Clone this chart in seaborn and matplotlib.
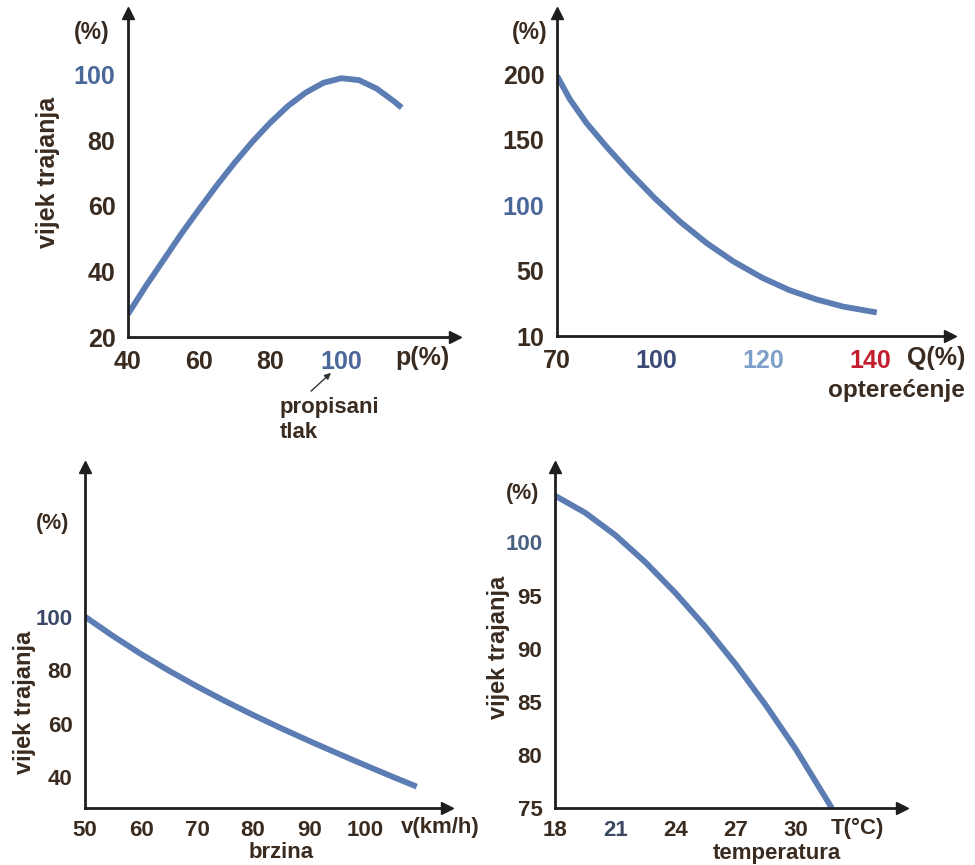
import numpy as np
import matplotlib
matplotlib.use('Agg')
import matplotlib.pyplot as plt
import seaborn as sns

# ---------------- data ----------------
# Panel 1: tyre life vs. inflation pressure
pressure_pct = [40, 45, 50, 55, 60, 65, 70, 75, 80, 85, 90, 95, 100, 105, 110, 115, 117]
life_pressure = [27, 35.5, 43.5, 51.5, 59, 66.3, 73.2, 79.6, 85.4, 90.5, 94.6, 97.6, 99,
                 98.4, 95.8, 91.8, 90]
p_xticks = [40, 60, 80, 100]
p_yticks = [20, 40, 60, 80, 100]

# Panel 2: tyre life vs. load
load_pct = [70, 73.9, 78.9, 85.1, 92.1, 99.8, 104.5, 109.5, 114.5, 119.9, 125, 130, 135, 141.3]
life_load = [199, 181, 163, 144.5, 125, 105, 87.5, 71, 57, 45.6, 38, 32.4, 28, 24.4]
q_xticks = [70, 100, 120, 140]
q_yticks = [10, 50, 100, 150, 200]

# Panel 3: tyre life vs. speed
speed_kmh = [50, 55, 60, 65, 70, 75, 80, 85, 90, 95, 100, 105, 109.2]
life_speed = [100, 92.75, 86.0, 79.75, 73.9, 68.4, 63.2, 58.25, 53.5, 48.9, 44.4, 40.0, 36.4]
v_xticks = [50, 60, 70, 80, 90, 100]
v_yticks = [40, 60, 80, 100]

# Panel 4: tyre life vs. temperature
temp_c = [18, 19.5, 21, 22.5, 24, 25.5, 27, 28.5, 30, 31.8]
life_temp = [104.4, 102.8, 100.7, 98.15, 95.25, 92.05, 88.55, 84.7, 80.55, 75]
t_xticks = [18, 21, 24, 27, 30]
t_yticks = [75, 80, 85, 90, 95, 100]

# ---------------- styling ----------------
sns.set_theme(style='white')
plt.rcParams['font.family'] = ['Liberation Sans', 'DejaVu Sans']
plt.rcParams['font.weight'] = 'bold'

BROWN = '#3a2b20'
BLUE = '#4a6899'
LINE = '#5b7db3'
AXC = '#1e1e1e'

W, H = 975, 865
fig = plt.figure(figsize=(W / 100, H / 100), dpi=100)
fig.patch.set_facecolor('white')


def add_ax(l, t, r, b):
    return fig.add_axes([l / W, 1 - b / H, (r - l) / W, (b - t) / H])


def style(ax, xticks, yticks, xlim, ylim, xcols, ycols, fs):
    ax.set_xlim(*xlim)
    ax.set_ylim(*ylim)
    ax.set_xticks(xticks)
    ax.set_yticks(yticks)
    ax.set_xticklabels([str(v) for v in xticks])
    ax.set_yticklabels([str(v) for v in yticks])
    ax.xaxis.set_minor_locator(matplotlib.ticker.NullLocator())
    ax.yaxis.set_minor_locator(matplotlib.ticker.NullLocator())
    sns.despine(ax=ax)
    for s in ('left', 'bottom'):
        ax.spines[s].set_linewidth(2.0)
        ax.spines[s].set_color(AXC)
    ax.tick_params(axis='both', direction='out', length=4, width=1.0,
                   color='#666666', labelsize=fs, pad=5)
    for lbl, c in zip(ax.get_xticklabels(), xcols):
        lbl.set_color(c)
        lbl.set_fontweight('bold')
    for lbl, c in zip(ax.get_yticklabels(), ycols):
        lbl.set_color(c)
        lbl.set_fontweight('bold')
    ax.plot(1, 0, '>', color=AXC, ms=8, transform=ax.transAxes, clip_on=False)
    ax.plot(0, 1, '^', color=AXC, ms=8, transform=ax.transAxes, clip_on=False)
    ax.set_xlabel('')
    ax.set_ylabel('')
    ax.grid(False)


def ftext(x, y, s, size=16, color=BROWN, rot=0, ha='center', va='center'):
    fig.text(x / W, 1 - y / H, s, fontsize=size, color=color, rotation=rot,
             ha=ha, va=va, fontweight='bold')


LW = 4.2

# ---- Panel 1 ----
ax1 = add_ax(128, 13, 455, 337)
sns.lineplot(x=pressure_pct, y=life_pressure, ax=ax1, color=LINE, lw=LW)
style(ax1, p_xticks, p_yticks, (40, 132), (20, 118.9),
      [BROWN, BROWN, BROWN, BLUE], [BROWN, BROWN, BROWN, BROWN, BLUE], 18)
ftext(92, 32, '(%)', 16.5)
ftext(48, 172, 'vijek trajanja', 18, rot=90)
ftext(422, 358, 'p(%)', 18)
ftext(280, 408, 'propisani', 16, ha='left')
ftext(280, 432, 'tlak', 16, ha='left')
ax1.annotate('', xy=(333 / W, 1 - 371 / H), xytext=(309 / W, 1 - 393 / H),
             xycoords='figure fraction', textcoords='figure fraction',
             arrowprops=dict(arrowstyle='-|>', lw=1.0, color='#333333',
                             mutation_scale=9))

# ---- Panel 2 (schematic, non-uniform scale near the origin) ----
ax2 = add_ax(557, 13, 950, 336)
kx_d = [-1000, 70, 100, 1000]
kx_p = [-988.5, 81.5, 100, 1000]
ky_d = [-1000, 10, 50, 10000]
ky_p = [-1010, 0, 50, 10000]
ax2.set_xscale('function', functions=(lambda v: np.interp(v, kx_d, kx_p),
                                      lambda v: np.interp(v, kx_p, kx_d)))
ax2.set_yscale('function', functions=(lambda v: np.interp(v, ky_d, ky_p),
                                      lambda v: np.interp(v, ky_p, ky_d)))
sns.lineplot(x=load_pct, y=life_load, ax=ax2, color=LINE, lw=LW)
style(ax2, q_xticks, q_yticks, (70, 155), (10, 247),
      [BROWN, '#3c4a78', '#7f9fca', '#c41e2e'],
      [BROWN, BROWN, BLUE, BROWN, BROWN], 18)
ftext(530, 33, '(%)', 16.5)
ftext(936, 358, 'Q(%)', 18)
ftext(896, 390, 'opterećenje', 17.5)

# ---- Panel 3 ----
ax3 = add_ax(85, 467, 447, 808)
sns.lineplot(x=speed_kmh, y=life_speed, ax=ax3, color=LINE, lw=LW)
style(ax3, v_xticks, v_yticks, (50, 114.6), (28.4, 156),
      [BROWN] * 6, [BROWN, BROWN, BROWN, '#3c4868'], 16)
ftext(53, 523, '(%)', 15.5)
ftext(25, 702, 'vijek trajanja', 17, rot=90)
ftext(440, 828, 'v(km/h)', 16)
ftext(281, 852, 'brzina', 16)

# ---- Panel 4 ----
ax4 = add_ax(555, 467, 902, 808)
sns.lineplot(x=temp_c, y=life_temp, ax=ax4, color=LINE, lw=LW)
style(ax4, t_xticks, t_yticks, (18, 35.3), (75, 107.1),
      [BROWN, '#3c4860', BROWN, BROWN, BROWN],
      [BROWN, BROWN, BROWN, BROWN, BROWN, '#4a6080'], 16)
ftext(523, 493, '(%)', 15.5)
ftext(498, 647, 'vijek trajanja', 17, rot=90)
ftext(857, 828, 'T(°C)', 16)
ftext(777, 853, 'temperatura', 16)

for ax in (ax1, ax2, ax3, ax4):
    ln = ax.get_lines()[0]
    ln.set_solid_capstyle('butt')
    ln.set_solid_joinstyle('round')

fig.savefig('out.png', dpi=100, facecolor='white')
